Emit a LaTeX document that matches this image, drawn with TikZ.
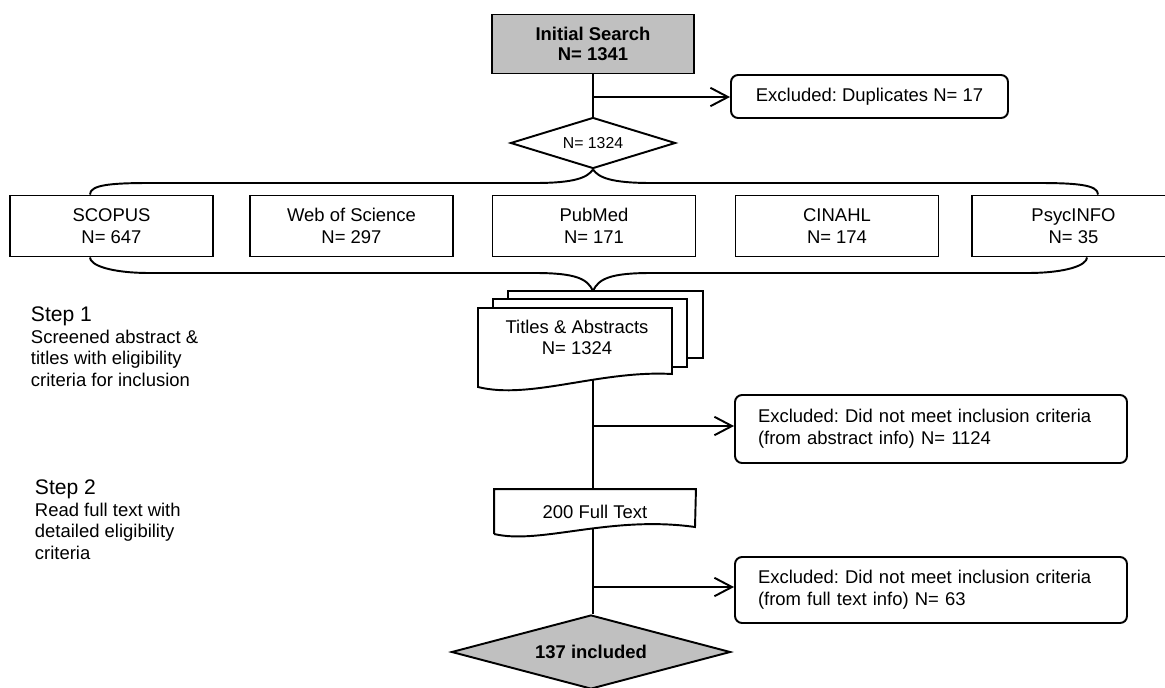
\documentclass[tikz,border=0pt]{standalone}
\usepackage{fontspec}
\setmainfont{Liberation Sans}
\usetikzlibrary{shapes.geometric, arrows.meta, positioning}
\frenchspacing

\definecolor{boxgray}{RGB}{192,192,192}

\begin{document}
\begin{tikzpicture}[
  line width=1.1pt,
  font=\fontsize{10.5}{12.4}\selectfont,
  dbbox/.style={draw, minimum width=4.06cm, minimum height=1.22cm, align=center, inner sep=0pt},
  exbox/.style={draw, rounded corners=4pt, align=left, inner sep=0pt},
  decision/.style={draw, diamond, inner sep=0pt, align=center},
  sheet/.style={draw, fill=white},
  steplabel/.style={anchor=base west, inner sep=0pt, font=\fontsize{12}{14}\selectfont},
  stepnote/.style={inner sep=0pt, align=left},
  arr/.style={-{Straight Barb[length=10pt, width=10.5pt]}}
]
\useasboundingbox (0,0) rectangle (23.3,-13.74);

\path (11.86,-0.88) node[draw, fill=boxgray, minimum width=4.04cm, minimum height=1.18cm, align=center, font=\fontsize{10.5}{11.5}\selectfont\bfseries] (init) {Initial Search\\N= 1341};
\path (17.39,-1.93) node[exbox, minimum width=5.54cm, minimum height=0.86cm] (dup) {Excluded: Duplicates N= 17};
\path (11.86,-2.86) node[decision, aspect=3.2, minimum width=3.3cm, minimum height=1.02cm, font=\fontsize{9}{11}\selectfont] (n1324) {N= 1324};

\path (2.23,-4.52) node[dbbox] (scopus) {SCOPUS\\N= 647};
\path (7.03,-4.52) node[dbbox] (wos) {Web of Science\\N= 297};
\path (11.88,-4.52) node[dbbox] (pubmed) {PubMed\\N= 171};
\path (16.74,-4.52) node[dbbox] (cinahl) {CINAHL\\N= 174};
\path (21.47,-4.52) node[dbbox] (psyc) {PsycINFO\\N= 35};

\draw (init.south) -- (n1324.north);
\coordinate (b1) at (11.86,-1.94);
\draw[arr] (b1) -- (b1 -| dup.west);

\draw ([xshift=-0.43cm]scopus.north) .. controls (1.8,-3.7) and (2.2,-3.66) .. (3,-3.66) -- (10.7,-3.66) .. controls (11.5,-3.66) and (11.75,-3.55) .. (n1324.south);
\draw ([xshift=0.49cm]psyc.north) .. controls (21.96,-3.7) and (21.56,-3.66) .. (20.76,-3.66) -- (13.02,-3.66) .. controls (12.22,-3.66) and (11.97,-3.55) .. (n1324.south);

\coordinate (stacktop) at (11.86,-5.82);
\draw ([xshift=-0.43cm]scopus.south) .. controls (1.8,-5.3) and (2.2,-5.46) .. (3,-5.46) -- (10.7,-5.46) .. controls (11.5,-5.46) and (11.75,-5.57) .. (stacktop);
\draw ([xshift=0.27cm]psyc.south) .. controls (21.74,-5.3) and (21.34,-5.46) .. (20.54,-5.46) -- (13.02,-5.46) .. controls (12.22,-5.46) and (11.97,-5.57) .. (stacktop);

\draw[sheet] (10.16,-5.82) rectangle (14.06,-7.16);
\draw[sheet] (9.86,-5.98) rectangle (13.74,-7.34);
\draw[sheet] (9.56,-7.74) -- (9.56,-6.16) -- (13.44,-6.16) -- (13.44,-7.48) .. controls (12,-7.4) and (10.6,-8) .. cycle;
\path (11.54,-6.75) node[align=center, inner sep=0pt] (titles) {Titles \& Abstracts\\N= 1324};
\coordinate (tabot) at (11.86,-7.59);

\path (11.9,-10.23) node[minimum width=4cm, minimum height=0.86cm, inner sep=0pt] (ft) {200 Full Text};
\draw (ft.south west) -- (ft.north west) -- (ft.north east) -- (13.9,-10.54) .. controls (12.2,-10.3) and (10.8,-10.9) .. (ft.south west);
\coordinate (ftbot) at (11.86,-10.57);

\path (18.62,-8.58) node[exbox, minimum width=7.84cm, minimum height=1.36cm, text width=6.92cm] (exa) {Excluded: Did not meet inclusion criteria\\(from abstract info) N= 1124};
\path (18.62,-11.8) node[exbox, minimum width=7.84cm, minimum height=1.32cm, text width=6.92cm] (exf) {Excluded: Did not meet inclusion criteria\\(from full text info) N= 63};

\path (11.82,-13.04) node[decision, fill=boxgray, aspect=3.8, minimum width=5.58cm, minimum height=1.48cm, font=\fontsize{10.5}{12}\selectfont\bfseries] (fin) {137 included};

\draw (tabot) -- (tabot |- ft.north);
\coordinate (b2) at (11.86,-8.52);
\draw[arr] (b2) -- (b2 -| exa.west);
\draw (ftbot) -- (ftbot |- fin.north);
\coordinate (b3) at (11.86,-11.74);
\draw[arr] (b3) -- (b3 -| exf.west);

\path (0.6,-6.42) node[steplabel] (s1) {Step 1};
\node[stepnote, below=1.4pt of s1.south west, anchor=north west] (s1note) {Screened abstract \&\\titles with eligibility\\criteria for inclusion};
\path (0.68,-9.88) node[steplabel] (s2) {Step 2};
\node[stepnote, below=1.4pt of s2.south west, anchor=north west] (s2note) {Read full text with\\detailed eligibility\\criteria};
\end{tikzpicture}
\end{document}
